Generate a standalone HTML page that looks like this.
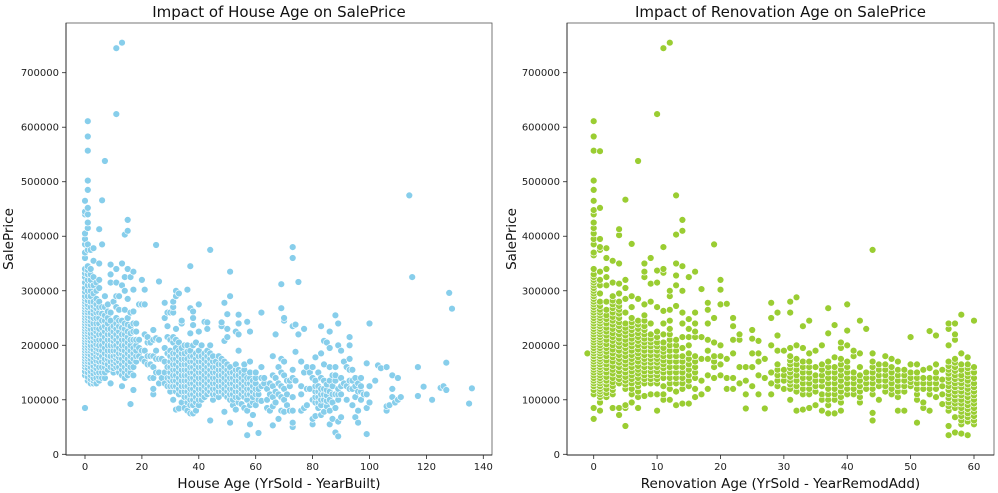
<!DOCTYPE html>
<html><head><meta charset="utf-8">
<style>
html,body{margin:0;padding:0;background:#fff;}
svg{display:block;font-family:"DejaVu Sans","Liberation Sans",sans-serif;}
</style></head>
<body>
<svg id="chart" width="998" height="493" viewBox="0 0 998 493" xmlns="http://www.w3.org/2000/svg"></svg>
<script>
// ---- Left chart data: House Age groups and SalePrice (thousands) ----
const houseAges = [0,1,2,3,4,5,6,7,8,9,10,11,12,13,14,15,16,17,18,19,20,21,22,23,24,25,26,27,28,29,30,31,32,33,34,35,36,37,38,39,40,41,42,43,44,45,46,47,48,49,50,51,52,53,54,55,56,57,58,59,60,61,62,63,64,65,66,67,68,69,70,71,72,73,74,75,76,77,78,79,80,81,82,83,84,85,86,87,88,89,90,91,92,93,94,95,96,97,98,99,100,102,103,104,106,107,108,109,110,111,114,115,117,119,122,125,126,127,128,129,135,136];
const housePrices = [
[85,145,152,160,165,170,175,180,185,190,195,200,205,210,215,220,225,230,235,240,245,250,255,260,265,270,275,280,285,290,298,305,315,325,332,340,360,370,385,395,405,440,445,465],
[135,142,150,158,165,170,175,180,185,190,195,200,205,210,215,220,225,230,235,240,245,250,255,260,265,270,275,282,290,300,310,320,330,338,345,375,385,415,425,440,452,485,502,557,583,611],
[130,138,145,152,160,168,175,182,190,195,200,208,215,222,230,238,245,252,260,270,280,290,300,310,320,330,340,375],
[130,135,140,148,155,162,170,178,185,192,200,208,215,222,230,240,250,258,265,272,280,295,310,325,355,378],
[130,140,150,158,165,172,180,188,195,202,210,218,225,232,240,250,260,268,275,285,300,315],
[135,142,150,160,170,178,185,192,200,210,220,230,240,250,260,270,280,305,320,350,413],
[140,150,160,170,180,190,200,210,220,232,245,258,270,385,466],
[140,150,160,168,175,185,195,205,215,225,235,245,255,270,290,538],
[155,165,175,182,190,200,210,220,230,240,250,262,275],
[130,160,170,180,190,200,210,220,230,245,260,315,330,348],
[150,158,165,172,180,190,200,208,215,225,235,280],
[160,168,175,182,190,200,210,220,230,240,250,270,290,315,340,624,745],
[150,160,170,178,185,195,205,215,225,235,245,265,290],
[125,145,155,165,175,185,192,200,210,220,232,245,310,350,755],
[140,150,160,170,180,190,200,210,220,230,240,265,300,325,403],
[145,155,165,175,185,195,205,215,225,238,250,285,340,410,430],
[92,150,160,170,180,190,200,210,222,235,260,325],
[118,145,160,175,185,195,210,225,240,262,302,335],
[170,180,190,200,210,225,240],
[180,195,210,275],
[175,190,275,320],
[170,190,220,275,302],
[165,180,205,215],
[140,165,180,205],
[110,120,140,160,180,210,228],
[150,175,190,213,384],
[130,150,175,210,317],
[140,175],
[130,150,170,195,250,278],
[125,140,160,185,215,235,260],
[115,125,135,142,150,160,170,180,190,210,260],
[100,125,135,145,155,165,175,185,205,215,260,270,280],
[82,115,125,135,145,155,165,175,185,195,210,230,290,300],
[84,110,120,130,140,150,160,170,180,190,205,295],
[95,115,125,135,145,155,165,175,185,195,240,245],
[85,105,115,125,135,145,155,165,175,185,200],
[80,95,105,115,125,135,145,155,165,175,188,200,302],
[75,90,100,110,120,130,140,150,160,170,180,190,222,268,345],
[75,90,100,110,120,130,140,150,160,170,180,200,237,250,262],
[80,95,105,115,125,135,145,155,165,175,185,205],
[90,100,110,120,130,140,150,160,170,180,190,225,275],
[100,110,120,130,140,150,160,170,180,200],
[105,115,125,135,145,155,165,175,185,243],
[110,120,130,140,150,160,170,180,190,230,242],
[62,115,125,135,145,155,165,175,185,200,375],
[100,110,120,130,140,150,160,170,180],
[110,120,130,140,150,160,170],
[105,115,125,135,145,155,165,180],
[115,125,135,145,155,165,175,235,242],
[78,110,120,130,140,150,160,170,208,278],
[105,115,125,135,145,155,165,215,230,257],
[58,100,110,120,130,140,150,160,290,335],
[90,100,110,120,130,140,150],
[82,105,115,125,135,145,155,165,225],
[95,105,115,125,135,145,155,190,220,240,256],
[92,110,120,130,140,150],
[85,105,115,125,135,145,155,165],
[35,80,100,110,120,130,140,243],
[55,90,110,120,130,140,150,170,225],
[72,95,105,115,125,135],
[90,110,120,130,140,150],
[39,100,110,120],
[98,125,140,160,260],
[130,140],
[85,100,120],
[80,110,130],
[53,88,105,125,145,180],
[95,115,140,220],
[65,110,130,160],
[80,105,125,150,175,268,312],
[78,100,120,145,170,245,250],
[90,110,135],
[80,125,135],
[50,58,80,105,140,155,235,360,380],
[135,188,238],
[220,316],
[80,110,125,170],
[85,150,230],
[90,120,160],
[120,150],
[55,65,100,140,160],
[70,95,105,115,125,135,178],
[85,95,105,115,125,150],
[72,90,100,110,120,140,185,235],
[78,100,110,120,135,165,208],
[88,98,108,118,128,205],
[55,80,100,115,135,160,195,225],
[65,95,110,125,145],
[40,85,110,135,145,160,255],
[33,60,100,110,120,200,240],
[68,110,125,140,190],
[130,170],
[100,125,160],
[120,135,155,175,200,215],
[90,120,135,155],
[68,105,125,140],
[58,80,115,130],
[100,115,125,140],
[110],
[37,85,110,167],
[95,125,240],
[135],[163],[158],
[80,88,160],
[90],
[105,120,145],
[95],
[100,140],
[105],
[475],[325],
[107,160],
[124],[100],[122],[125],
[118,168],
[296],[267],[93],[121]
];
// ---- Right chart data: Renovation Age groups and SalePrice (thousands) ----
const renoAges = [-1,0,1,2,3,4,5,6,7,8,9,10,11,12,13,14,15,16,17,18,19,20,21,22,23,24,25,26,27,28,29,30,31,32,33,34,35,36,37,38,39,40,41,42,43,44,45,46,47,48,49,50,51,52,53,54,55,56,57,58,59,60];
const renoPrices = [
[185],
[65,85,110,118,125,130,135,140,145,150,155,160,165,170,175,180,185,190,195,200,205,210,215,220,225,230,235,240,245,250,255,260,265,270,275,280,285,290,295,300,305,310,315,320,325,330,340,365,370,385,395,405,415,425,440,448,465,485,502,557,583,611],
[80,95,105,110,115,120,125,130,135,140,145,150,155,160,165,170,175,180,185,190,195,200,205,210,215,220,225,230,235,240,245,250,255,260,265,272,280,295,310,320,335,375,380,395,452,556],
[105,112,120,128,135,142,150,158,165,172,180,188,195,202,210,218,225,232,240,248,255,265,280,310,325,340,360,378],
[85,110,118,125,132,140,148,155,162,170,178,185,192,200,208,215,222,230,238,245,252,260,268,275,282,290,315,355],
[72,85,130,138,145,152,160,168,175,182,190,198,205,212,220,228,235,242,250,258,265,272,280,295,313,350,402,413],
[52,85,90,120,128,135,142,150,158,165,172,180,188,195,202,210,218,225,232,240,260,285,305,320,467],
[95,110,120,130,138,145,152,160,168,175,182,190,198,205,212,220,228,235,242,250,270,290,386],
[85,105,115,125,132,140,148,155,162,170,178,185,192,200,208,215,222,230,238,245,285,538],
[107,130,138,145,152,160,168,175,182,190,198,205,212,220,228,235,245,255,275,325,335,350],
[110,130,138,145,152,160,168,175,182,190,198,205,212,220,240,280,313,360],
[80,110,130,138,145,152,160,168,175,182,190,198,205,215,225,270,315,337,624],
[100,110,125,140,150,158,165,172,180,188,195,205,220,240,263,333,340,380,745],
[100,120,130,140,150,160,170,180,190,200,210,220,230,245,265,290,300,755],
[90,115,130,140,150,160,170,180,190,200,210,272,310,328,350,403,475],
[93,120,130,140,150,160,170,180,195,215,240,260,300,345,410,430],
[93,125,135,145,155,165,175,185,200,215,230,248,325],
[105,120,140,150,160,170,180,215,225,240,260,335],
[110,135,175,215,303],
[120,145,175,190,210,240,265,278],
[140,160,170,180,205,250,385],
[145,165,180,200,275,302,320],
[120,140,175,276],
[120,140,185,210,235,250],
[130,160,210,220],
[84,110,135,160],
[125,160,185,212,228],
[110,145,170,185,208],
[84,140,175],
[110,130,150,200,250,278],
[125,135,145,155,165,190,218,260],
[120,135,145,155,190],
[100,120,128,135,142,150,158,165,172,180,195,260,280],
[80,115,125,135,145,155,165,175,200,288],
[82,110,120,130,140,150,160,170,195,235],
[85,110,120,130,140,150,160,170,185,245],
[90,115,125,135,145,160,190],
[80,100,110,125,135,145,155,165,200],
[75,90,100,110,120,130,140,150,160,170,222,268],
[75,100,110,120,130,140,150,160,178,237],
[80,95,105,115,125,135,145,155,165,175,195,205],
[110,120,130,140,150,160,170,200,227,275],
[110,120,130,140,150,180,190],
[95,105,115,125,135,145,160,185,245],
[120,130,140,150,230],
[62,76,110,120,130,140,150,160,170,185,375],
[100,125,135,145,155,165],
[115,125,135,145,155,165,180],
[110,120,130,140,150,160,175],
[80,105,115,125,135,145,155,170],
[80,115,125,135,145,155],
[125,132,140,150,165,215],
[58,100,110,120,130,140,150,165],
[85,95,120,130,140,155],
[80,110,120,130,140,158,226],
[105,120,130,140,150,165,218],
[92,110,125,137,155],
[35,52,80,88,95,103,110,118,125,133,140,148,155,162,170,200,230,240],
[40,68,85,93,100,108,115,123,130,138,145,153,160,168,175,210,220,240],
[38,55,62,70,78,85,93,100,108,115,123,130,138,145,155,165,185,256],
[35,60,68,75,83,90,98,105,113,120,128,135,143,150,158,165,178],
[55,62,70,78,85,93,100,108,115,123,130,140,150,160,245]
];
const leftXTicks = [0,20,40,60,80,100,120,140];
const rightXTicks = [0,10,20,30,40,50,60];
const yTicks = [0,100000,200000,300000,400000,500000,600000,700000];

const NS = "http://www.w3.org/2000/svg";
const svg = document.getElementById('chart');
function mk(tag, attrs, parent){
  const e = document.createElementNS(NS, tag);
  for (const k in attrs) e.setAttribute(k, attrs[k]);
  (parent||svg).appendChild(e);
  return e;
}

function drawPanel(p){
  const g = mk('g', {});
  
  
  const xScale = v => p.x0px + (v - 0) * (p.x1px - p.x0px) / (p.x1val);
  const yScale = v => 454.3 - v * (454.3 - 72.7) / 700000;

  const pts = mk('g', {}, g);
  
  
  p.xs.forEach((xv, i) => {
    p.ys[i].forEach(yv => {
      const c = mk('circle', {cx: xScale(xv).toFixed(1), cy: yScale(yv*1000).toFixed(1), r: 3.4, fill: p.color, stroke: '#fff', 'stroke-width': 0.6}, pts);
      
      
    });
  });

  const fr = mk('rect', {x: p.left, y: 23, width: p.right - p.left, height: 432, fill: 'none', stroke: '#555', 'stroke-width': 0.8}, g);
  
  
  const xl = mk('line', {x1: p.left, x2: p.right, y1: 455, y2: 455, stroke: '#222', 'stroke-width': 0.9}, g);
  
  
  const yl = mk('line', {x1: p.left, x2: p.left, y1: 23, y2: 455, stroke: '#222', 'stroke-width': 0.9}, g);
  
  

  p.xTicks.forEach(t => {
    const x = xScale(t);
    mk('line', {x1: x, x2: x, y1: 455, y2: 459, stroke: '#222', 'stroke-width': 0.8}, g);
    const tx = mk('text', {x: x, y: 470, 'font-size': 10, 'text-anchor': 'middle', fill: '#222'}, g);
    tx.textContent = t;
    
    
  });
  yTicks.forEach(t => {
    const y = yScale(t);
    mk('line', {x1: p.left - 4, x2: p.left, y1: y, y2: y, stroke: '#222', 'stroke-width': 0.8}, g);
    const ty = mk('text', {x: p.left - 7, y: y + 3.5, 'font-size': 10, 'text-anchor': 'end', fill: '#222'}, g);
    ty.textContent = t;
    
    
  });
  const tt = mk('text', {x: (p.left + p.right)/2, y: 17, 'font-size': 15, 'text-anchor': 'middle', fill: '#111'}, g);
  tt.textContent = p.title;
  
  
  const xt = mk('text', {x: (p.left + p.right)/2, y: 488, 'font-size': 13.5, 'text-anchor': 'middle', fill: '#111'}, g);
  xt.textContent = p.xlabel;
  
  
  const yt = mk('text', {x: 0, y: 0, 'font-size': 13.5, 'text-anchor': 'middle', fill: '#111', transform: 'translate(' + p.ylabelX + ',239) rotate(-90)'}, g);
  yt.textContent = 'SalePrice';
  
  
}

drawPanel({name: 'house-age-panel', xs: houseAges, ys: housePrices, color: '#87CEEB',
  left: 66, right: 492, x0px: 85, x1px: 483.3, x1val: 140, xTicks: leftXTicks,
  title: 'Impact of House Age on SalePrice', xlabel: 'House Age (YrSold - YearBuilt)', ylabelX: 13});
drawPanel({name: 'renovation-age-panel', xs: renoAges, ys: renoPrices, color: '#9ACD32',
  left: 567, right: 994, x0px: 593.7, x1px: 974, x1val: 60, xTicks: rightXTicks,
  title: 'Impact of Renovation Age on SalePrice', xlabel: 'Renovation Age (YrSold - YearRemodAdd)', ylabelX: 516});
</script>
</body></html>
